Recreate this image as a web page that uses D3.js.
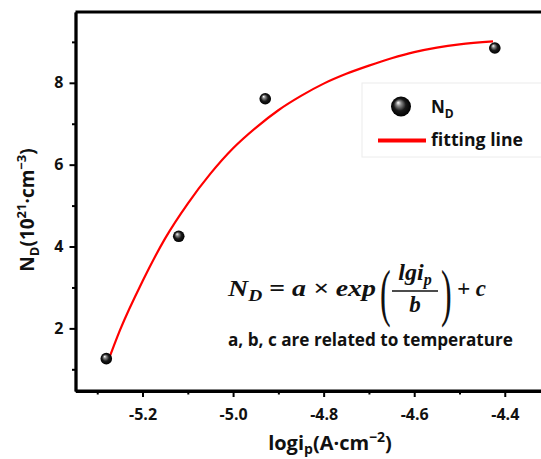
<!DOCTYPE html>
<html>
<head>
<meta charset="utf-8">
<script src="https://cdn.jsdelivr.net/npm/d3@7"></script>
<style>
  body { margin: 0; background: #fff; }
  svg { display: block; }
</style>
</head>
<body>
<div></div>
<script>
const width = 541;
const height = 459;

// measured points N_D vs log i_p
const logI = [-5.28, -5.12, -4.929, -4.422];
const ND = [1.26, 4.25, 7.61, 8.85];

// fitting line
const fitX = [-5.278, -5.25, -5.2, -5.15, -5.1, -5.05, -5.0, -4.95, -4.9, -4.85, -4.8, -4.75, -4.7, -4.65, -4.6, -4.55, -4.5, -4.426];
const fitY = [1.14, 1.95, 3.15, 4.20, 5.05, 5.78, 6.40, 6.90, 7.33, 7.68, 7.98, 8.22, 8.42, 8.60, 8.75, 8.86, 8.94, 9.01];

const xMajor = [-5.2, -5.0, -4.8, -4.6, -4.4];
const xMinor = [-5.3, -5.1, -4.9, -4.7, -4.5];
const yMajor = [2, 4, 6, 8];
const yMinor = [1, 3, 5, 7, 9];

const sans = "'Open Sans', 'Noto Sans', sans-serif";
const serif = "'Liberation Serif', 'DejaVu Serif', serif";

const svg = d3.select('div')
    .append('svg')
    .attr('width', width)
    .attr('height', height);

const defs = svg.append('defs');
const grad = defs.append('radialGradient')
    .attr('id', 'ball')
    .attr('cx', '0.5').attr('cy', '0.5').attr('r', '0.5')
    .attr('fx', '0.35').attr('fy', '0.3');
grad.append('stop').attr('offset', '0').attr('stop-color', '#ffffff');
grad.append('stop').attr('offset', '0.25').attr('stop-color', '#8a8a8a');
grad.append('stop').attr('offset', '0.6').attr('stop-color', '#1a1a1a');
grad.append('stop').attr('offset', '1').attr('stop-color', '#000000');

const x = d3.scaleLinear().domain([-5.348, -4.32]).range([75.5, 541]);
const y = d3.scaleLinear().domain([0.47, 9.73]).range([391, 12]);

// frame (right side is cut off in the original)
svg.append('line')
    .attr('x1', x.range()[0]).attr('x2', width + 5)
    .attr('y1', y.range()[1]).attr('y2', y.range()[1])
    .attr('stroke', '#000').attr('stroke-width', 2.8);

const xAxis = svg.append('g')
    .attr('transform', `translate(0,${y.range()[0]})`)
    .call(d3.axisBottom(x).tickValues(xMajor).tickFormat(d3.format('.1f')).tickSize(6).tickSizeOuter(0));
const xMin = svg.append('g')
    .attr('transform', `translate(0,${y.range()[0]})`)
    .call(d3.axisBottom(x).tickValues(xMinor).tickFormat('').tickSize(3.5).tickSizeOuter(0));
const yAxis = svg.append('g')
    .attr('transform', `translate(${x.range()[0]},0)`)
    .call(d3.axisLeft(y).tickValues(yMajor).tickFormat(d3.format('d')).tickSize(6).tickSizeOuter(0));
const yMin = svg.append('g')
    .attr('transform', `translate(${x.range()[0]},0)`)
    .call(d3.axisLeft(y).tickValues(yMinor).tickFormat('').tickSize(3.5).tickSizeOuter(0));

[xAxis, xMin, yAxis, yMin].forEach(g => {
    g.select('.domain').attr('stroke-width', 2.8);
    g.selectAll('.tick line').attr('stroke-width', 2);
    g.selectAll('text')
        .attr('font-family', sans)
        .attr('font-weight', 700)
        .attr('font-size', 16)
        .attr('fill', '#111');
});
xAxis.select('.domain').attr('d', `M${x.range()[0]},0H${width + 5}`);
xAxis.selectAll('.tick text').attr('dy', '1.25em').text(d => d3.format('.1f')(d).replace('−', '-'));
yAxis.selectAll('.tick text').attr('x', -12);

// fitting line
const line = d3.line()
    .x(i => x(fitX[i]))
    .y(i => y(fitY[i]))
    .curve(d3.curveMonotoneX);
svg.append('path')
    .attr('d', line(d3.range(fitX.length)))
    .attr('fill', 'none')
    .attr('stroke', '#ff0000')
    .attr('stroke-width', 2.2);

// data balls
svg.selectAll('circle.pt')
    .data(d3.range(logI.length))
    .join('circle')
    .attr('class', 'pt')
    .attr('cx', i => x(logI[i]))
    .attr('cy', i => y(ND[i]))
    .attr('r', 5.8)
    .attr('fill', 'url(#ball)');

// legend
const leg = svg.append('g');
leg.append('rect')
    .attr('x', 362).attr('y', 83).attr('width', 190).attr('height', 74)
    .attr('fill', '#fff').attr('stroke', '#ececec').attr('stroke-width', 1);
leg.append('circle')
    .attr('cx', 401).attr('cy', 106.5).attr('r', 10)
    .attr('fill', 'url(#ball)');
const legT1 = leg.append('text')
    .attr('x', 431).attr('y', 113)
    .attr('font-family', sans).attr('font-weight', 700).attr('font-size', 17).attr('fill', '#111');
legT1.append('tspan').text('N');
legT1.append('tspan').attr('font-size', 12).attr('dy', 5).text('D');
leg.append('line')
    .attr('x1', 378).attr('x2', 426).attr('y1', 140.5).attr('y2', 140.5)
    .attr('stroke', '#ff0000').attr('stroke-width', 4);
leg.append('text')
    .attr('x', 431).attr('y', 146)
    .attr('font-family', sans).attr('font-weight', 700).attr('font-size', 17).attr('fill', '#111')
    .attr('textLength', 92).attr('lengthAdjust', 'spacingAndGlyphs')
    .text('fitting line');

// formula
const fm = svg.append('g')
    .attr('font-family', serif).attr('font-weight', 700).attr('font-style', 'italic')
    .attr('fill', '#111');
const f1 = fm.append('text').attr('x', 228).attr('y', 296).attr('font-size', 23)
    .attr('textLength', 148).attr('lengthAdjust', 'spacingAndGlyphs');
f1.append('tspan').text('N');
f1.append('tspan').attr('font-size', 16).attr('dy', 5).text('D');
f1.append('tspan').attr('dy', -5).text(' = a × exp');
fm.append('text').attr('x', 380).attr('y', 314).attr('font-size', 64)
    .attr('font-style', 'normal').attr('font-weight', 400).attr('transform', 'translate(380,314) scale(0.5,1) translate(-380,-314)')
    .text('(');
const num = fm.append('text').attr('x', 415).attr('y', 280).attr('font-size', 24).attr('text-anchor', 'middle');
num.append('tspan').text('lgi');
num.append('tspan').attr('font-size', 16).attr('dy', 5).text('p');
fm.append('line')
    .attr('x1', 392).attr('x2', 438).attr('y1', 291).attr('y2', 291)
    .attr('stroke', '#111').attr('stroke-width', 1.6);
fm.append('text').attr('x', 415).attr('y', 312).attr('font-size', 23).attr('text-anchor', 'middle').text('b');
fm.append('text').attr('x', 441).attr('y', 314).attr('font-size', 64)
    .attr('font-style', 'normal').attr('font-weight', 400).attr('transform', 'translate(441,314) scale(0.5,1) translate(-441,-314)')
    .text(')');
fm.append('text').attr('x', 457).attr('y', 296).attr('font-size', 23).text('+ c');

svg.append('text')
    .attr('x', 228).attr('y', 346)
    .attr('font-family', sans).attr('font-weight', 700).attr('font-size', 17).attr('fill', '#111')
    .attr('textLength', 285).attr('lengthAdjust', 'spacingAndGlyphs')
    .text('a, b, c are related to temperature');

// axis titles
const xt = svg.append('text')
    .attr('x', 330).attr('y', 450)
    .attr('text-anchor', 'middle')
    .attr('font-family', sans).attr('font-weight', 700).attr('font-size', 20).attr('fill', '#111');
xt.append('tspan').text('logi');
xt.append('tspan').attr('font-size', 14).attr('dy', 4).text('p');
xt.append('tspan').attr('dy', -4).text('(A·cm');
xt.append('tspan').attr('font-size', 14).attr('dy', -8).text('−2');
xt.append('tspan').attr('dy', 8).text(')');

const yt = svg.append('text')
    .attr('transform', 'translate(34,210) rotate(-90)')
    .attr('text-anchor', 'middle')
    .attr('font-family', sans).attr('font-weight', 700).attr('font-size', 19).attr('fill', '#111');
yt.append('tspan').text('N');
yt.append('tspan').attr('font-size', 13).attr('dy', 5).text('D');
yt.append('tspan').attr('dy', -5).text('(10');
yt.append('tspan').attr('font-size', 13).attr('dy', -8).text('21');
yt.append('tspan').attr('dy', 8).text('·cm');
yt.append('tspan').attr('font-size', 13).attr('dy', -8).text('−3');
yt.append('tspan').attr('dy', 8).text(')');
</script>
</body>
</html>
